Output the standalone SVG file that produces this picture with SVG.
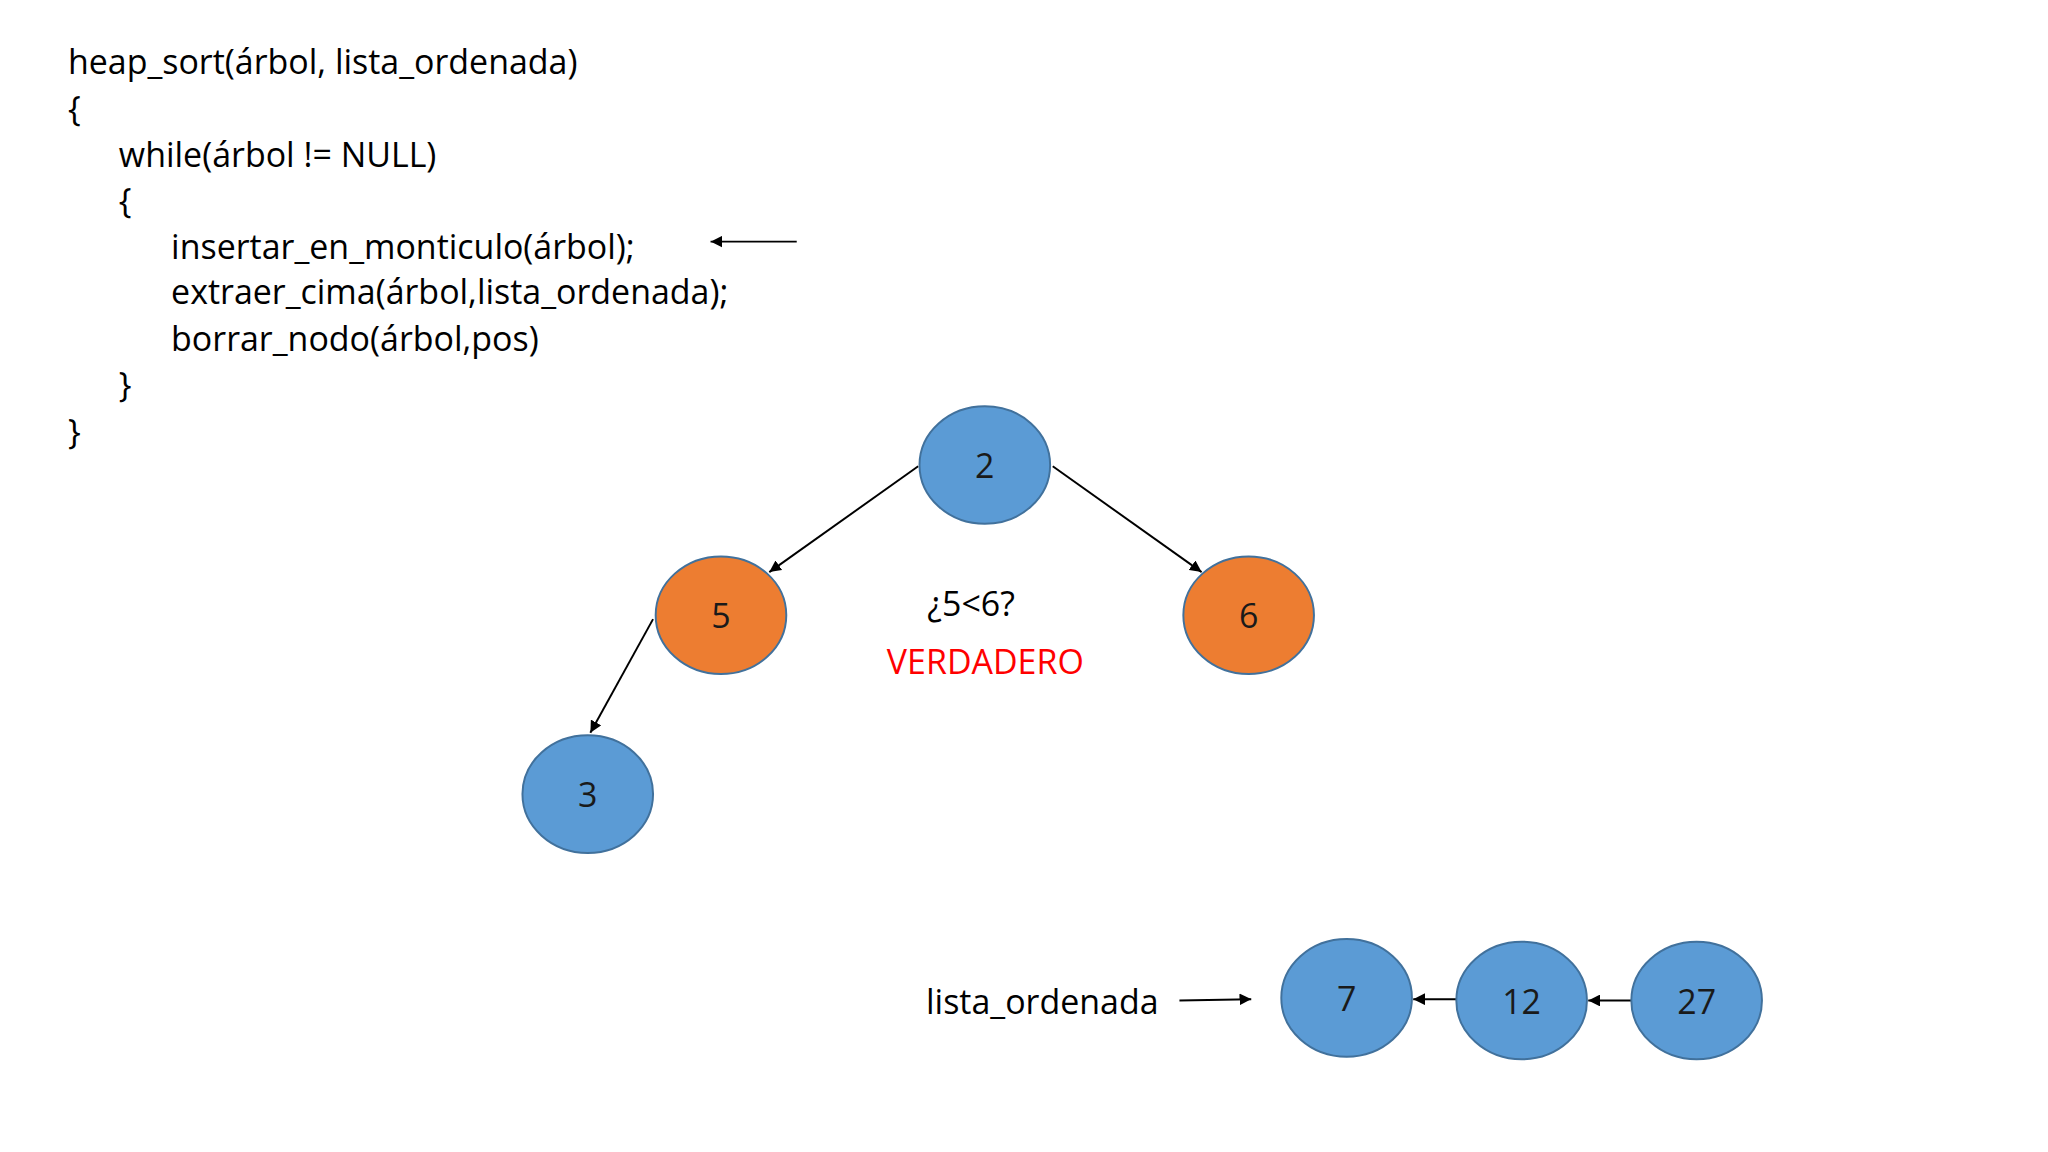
<svg xmlns="http://www.w3.org/2000/svg" width="2048" height="1152" viewBox="0 0 2048 1152">
<defs>
<marker id="ah" viewBox="0 0 10 10" refX="10" refY="5" markerWidth="6" markerHeight="6" orient="auto"><path d="M0,0 L10,5 L0,10 z" fill="#000"/></marker>
<style>
.t{font-family:"Open Sans","Noto Sans",sans-serif;font-size:26px;fill:#000}
.n{stroke:#41719C;stroke-width:1.5}
.b{fill:#5B9BD5}.o{fill:#ED7D31}
.c{stroke:#000;stroke-width:1.5;fill:none;marker-end:url(#ah)}
.l{font-family:"Open Sans","Noto Sans",sans-serif;font-size:26px;text-anchor:middle;fill:#1a1a1a}
</style>
</defs>
<rect width="2048" height="1152" fill="#fff"/>
<g transform="scale(1.30612)">
<g id="code" class="t">
<text x="52" y="57">heap_sort(árbol, lista_ordenada)</text>
<text x="52" y="93">{</text>
<text x="91" y="128">while(árbol != NULL)</text>
<text x="91" y="163">{</text>
<text x="131" y="198">insertar_en_monticulo(árbol);</text>
<text x="131" y="233">extraer_cima(árbol,lista_ordenada);</text>
<text x="131" y="269">borrar_nodo(árbol,pos)</text>
<text x="91" y="304">}</text>
<text x="52" y="340">}</text>
</g>
<g id="labels">
<text class="t" x="710" y="472">¿5&lt;6?</text>
<text class="t" x="679" y="516" fill="#FF0000" style="fill:#FF0000">VERDADERO</text>
<text class="t" x="709" y="776">lista_ordenada</text>
</g>
<g id="connectors">
<line class="c" x1="610" y1="185" x2="544" y2="185"/>
<line class="c" x1="703" y1="357" x2="589" y2="438"/>
<line class="c" x1="806" y1="357" x2="920" y2="438"/>
<line class="c" x1="500" y1="474" x2="452" y2="561"/>
<line class="c" x1="903" y1="766" x2="958" y2="765"/>
<line class="c" x1="1115" y1="765" x2="1082" y2="765"/>
<line class="c" x1="1249" y1="766" x2="1216" y2="766"/>
</g>
<g id="n2"><ellipse class="n b" cx="754" cy="356" rx="50" ry="45"/><text class="l" x="754" y="366">2</text></g>
<g id="n5"><ellipse class="n o" cx="552" cy="471" rx="50" ry="45"/><text class="l" x="552" y="481">5</text></g>
<g id="n6"><ellipse class="n o" cx="956" cy="471" rx="50" ry="45"/><text class="l" x="956" y="481">6</text></g>
<g id="n3"><ellipse class="n b" cx="450" cy="608" rx="50" ry="45"/><text class="l" x="450" y="618">3</text></g>
<g id="n7"><ellipse class="n b" cx="1031" cy="764" rx="50" ry="45"/><text class="l" x="1031" y="774">7</text></g>
<g id="n12"><ellipse class="n b" cx="1165" cy="766" rx="50" ry="45"/><text class="l" x="1165" y="776">12</text></g>
<g id="n27"><ellipse class="n b" cx="1299" cy="766" rx="50" ry="45"/><text class="l" x="1299" y="776">27</text></g>
</g>
</svg>
